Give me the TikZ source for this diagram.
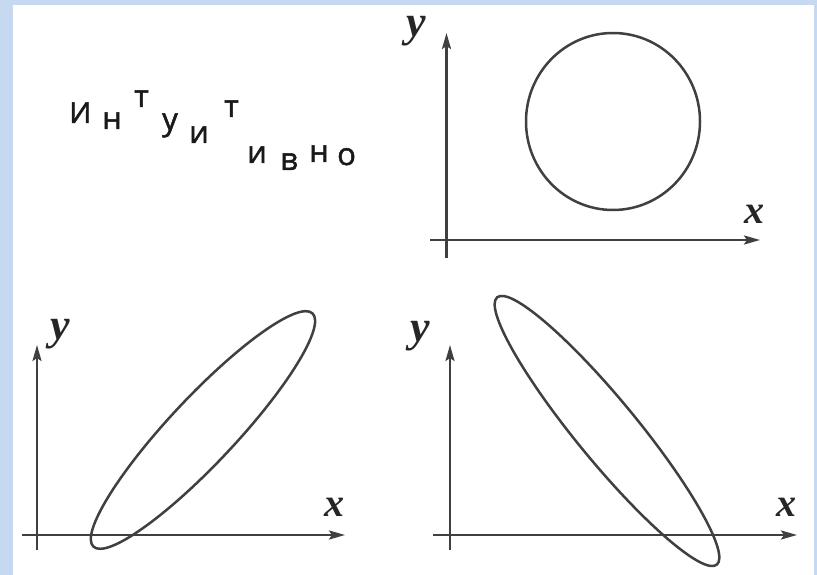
\documentclass[tikz,border=0pt]{standalone}
\usepackage{fontspec}
\setmainfont{Liberation Serif}
\newfontfamily\lettersans[FakeBold=1.6]{Open Sans}
\usetikzlibrary{arrows.meta}
\definecolor{frameblue}{HTML}{C6D9F1}
\definecolor{ink}{HTML}{404040}
\tikzset{
  axis/.style={draw=ink, line width=2.5pt, -{Stealth[length=16pt,width=9pt,inset=3pt]}},
  curve/.style={draw=ink, line width=2.5pt},
  axlabel/.style={inner sep=0pt, font=\fontsize{40}{42}\selectfont\bfseries\itshape, text=black!85},
  ylabel/.style={axlabel, font=\fontsize{44}{46}\selectfont\bfseries\itshape},
  lett/.style={inner sep=0pt, anchor=base west, font=\lettersans\fontsize{31}{33}\selectfont, text=black!90}
}
\begin{document}
\begin{tikzpicture}[x=1pt,y=-1pt]
\useasboundingbox (0,0) rectangle (817,575);
\fill[frameblue] (0,0) rectangle (817,575);
\fill[white] (13,5) rectangle (814,575);

% word
\node[lett, font=\lettersans\fontsize{29}{31}\selectfont] (l1) at (69,123) {И};
\node[lett] (l2) at (102,129) {н};
\node[lett] (l3) at (134,107) {т};
\node[lett] (l4) at (162,130) {у};
\node[lett] (l5) at (189,143) {и};
\node[lett] (l6) at (224,117) {т};
\node[lett] (l7) at (247,163) {и};
\node[lett] (l8) at (280,170) {в};
\node[lett] (l9) at (309,162) {н};
\node[lett] (l10) at (337,165) {о};

% top-right plot
\coordinate (a1o) at (446.5,258);
\coordinate (a1y) at (446.5,33);
\coordinate (a1l) at (430,240);
\coordinate (a1x) at (760,240);
\path[axis] (a1o) -- (a1y);
\path[axis] (a1l) -- (a1x);
\coordinate (c1) at (613,121.5);
\path[curve] (c1) ellipse [x radius=87, y radius=88.5];
\node[ylabel] (y1) at (416,31) {y};
\node[axlabel] (x1) at (754,214) {x};

% bottom-left plot
\coordinate (a2o) at (37,550);
\coordinate (a2y) at (37,345);
\coordinate (a2l) at (22,535);
\coordinate (a2x) at (345,535);
\path[axis] (a2o) -- (a2y);
\path[axis] (a2l) -- (a2x);
\coordinate (c2) at (203,430);
\path[curve, rotate around={46.8:(c2)}] (c2) ellipse [x radius=160, y radius=33];
\node[ylabel] (y2) at (60,334) {y};
\node[axlabel] (x2) at (334,507) {x};

% bottom-right plot
\coordinate (a3o) at (450,550);
\coordinate (a3y) at (450,345);
\coordinate (a3l) at (433,535);
\coordinate (a3x) at (797,535);
\path[axis] (a3o) -- (a3y);
\path[axis] (a3l) -- (a3x);
\coordinate (c3) at (607,431);
\path[curve, rotate around={-50.6:(c3)}] (c3) ellipse [x radius=173, y radius=30.5];
\node[ylabel] (y3) at (420,336) {y};
\node[axlabel] (x3) at (786,507) {x};
\end{tikzpicture}
\end{document}
